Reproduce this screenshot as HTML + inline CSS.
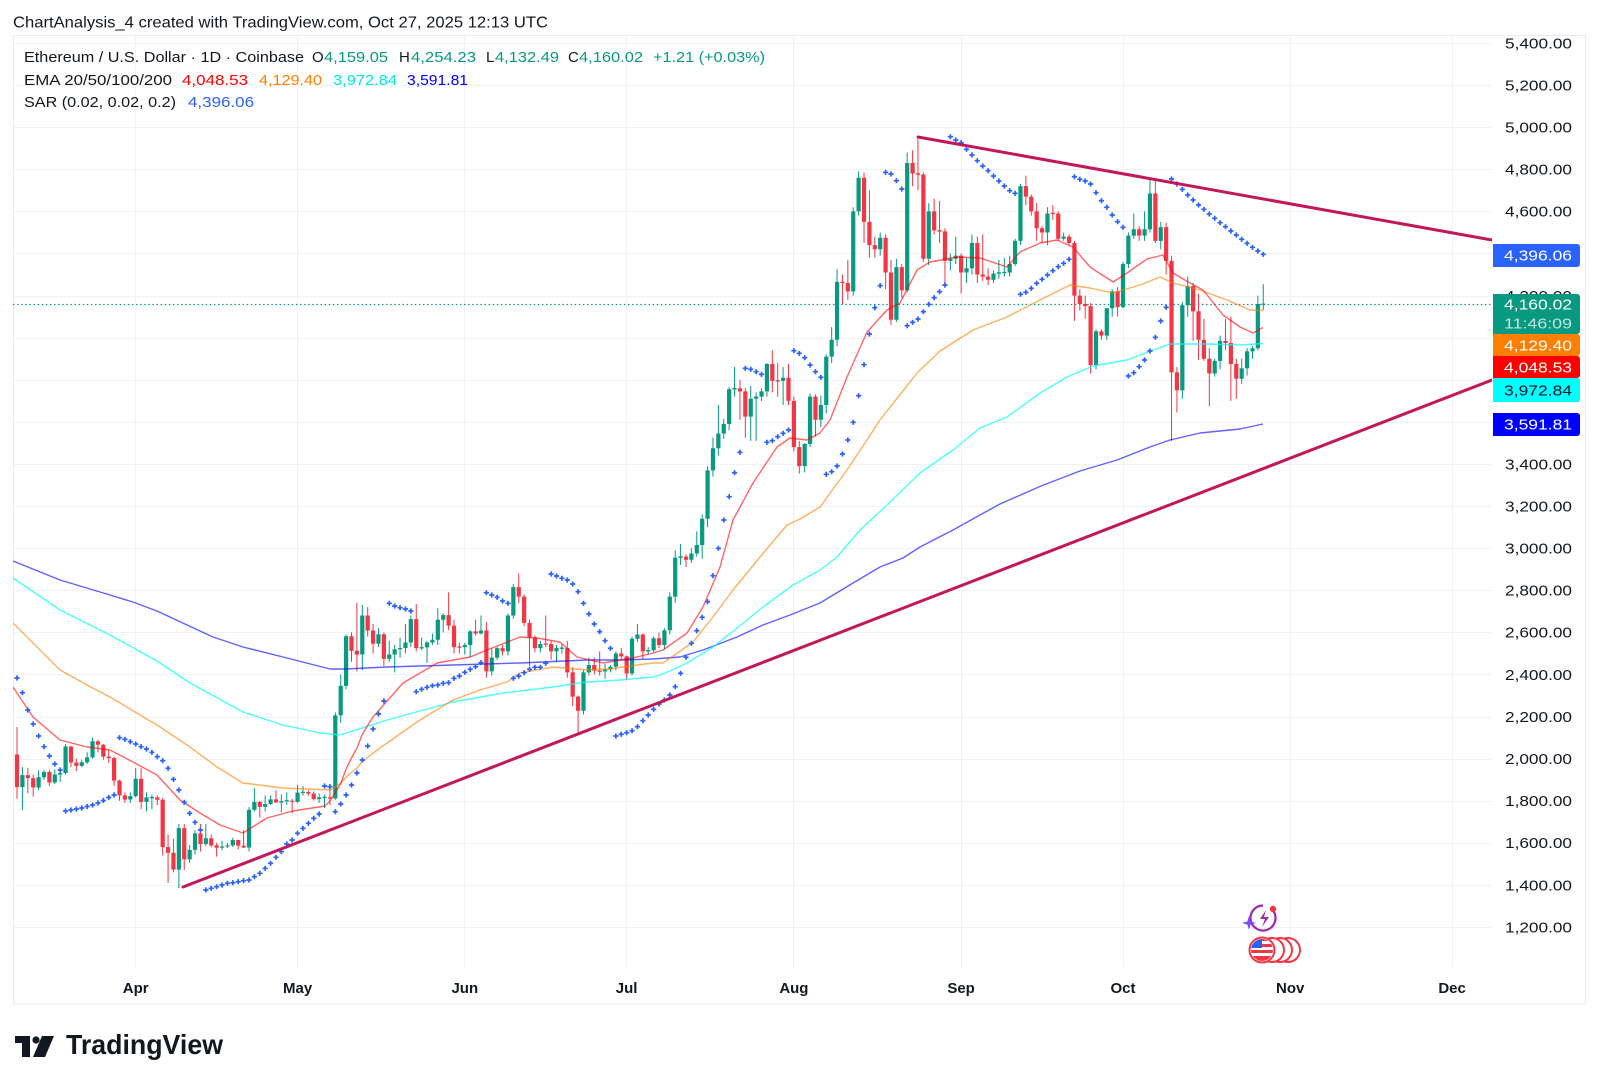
<!DOCTYPE html>
<html><head><meta charset="utf-8">
<style>
html,body{margin:0;padding:0;background:#fff;}
svg{display:block;font-family:"Liberation Sans",Arial,sans-serif;}
</style></head>
<body>
<svg xmlns="http://www.w3.org/2000/svg" width="1600" height="1084" viewBox="0 0 1600 1084">
<defs>
<clipPath id="clip"><rect x="13" y="35" width="1479" height="932"/></clipPath>
<clipPath id="coin"><circle cx="1262" cy="950" r="11"/></clipPath>
</defs>
<rect x="0" y="0" width="1600" height="1084" fill="#fff"/>
<text x="13" y="27.5" font-size="16" fill="#131722" textLength="535" lengthAdjust="spacingAndGlyphs">ChartAnalysis_4 created with TradingView.com, Oct 27, 2025 12:13 UTC</text>

<!-- grid -->
<path fill="none" stroke="#f0f2f6" stroke-width="1" d="M13 43.5H1492M13 85.5H1492M13 127.5H1492M13 169.5H1492M13 211.5H1492M13 253.5H1492M13 296.5H1492M13 338.5H1492M13 380.5H1492M13 422.5H1492M13 464.5H1492M13 506.5H1492M13 548.5H1492M13 590.5H1492M13 632.5H1492M13 674.5H1492M13 717.5H1492M13 759.5H1492M13 801.5H1492M13 843.5H1492M13 885.5H1492M13 927.5H1492M135.5 36V967M297.5 36V967M464.5 36V967M626.5 36V967M793.5 36V967M961.5 36V967M1123.5 36V967M1290.5 36V967M1452.5 36V967"/>
<rect x="13.5" y="35.5" width="1572" height="968.5" fill="none" stroke="#e9ebf0" stroke-width="1"/>

<g clip-path="url(#clip)">
<path d="M13 304.5H1492" stroke="#089981" stroke-width="1.3" stroke-dasharray="1.5 2.6" fill="none"/>
<g transform="matrix(5.395 0 0 -0.2105 17.01 1179.7)">
<path fill="none" stroke="#089981" stroke-width="1" vector-effect="non-scaling-stroke" d="M1 1960V1755M4 1945V1850M5 1945V1900M7 1950V1880M8 1940V1890M9 2070V1925M12 1995V1960M13 2030V1975M14 2100V2000M21 1840V1790M22 1955V1815M24 1840V1750M25 1830V1760M30 1690V1385M32 1590V1505M33 1660V1545M35 1690V1585M38 1610V1565M39 1600V1575M40 1625V1580M43 1770V1560M44 1860V1750M46 1825V1750M47 1825V1780M49 1830V1745M50 1840V1780M52 1875V1790M53 1870V1825M56 1835V1790M57 1830V1765M59 2220V1805M60 2400V2170M61 2590V2330M64 2730V2420M67 2620V2530M69 2560V2460M70 2540V2410M71 2575V2480M72 2640V2500M73 2680V2530M75 2575V2515M76 2560V2455M77 2595V2540M78 2715V2540M79 2690V2600M83 2550V2495M84 2610V2480M86 2680V2590M88 2525V2395M89 2530V2470M91 2690V2490M92 2830V2665M97 2560V2505M100 2540V2460M101 2545V2500M105 2420V2210M106 2480V2395M109 2450V2380M110 2445V2410M111 2510V2420M114 2580V2395M115 2640V2555M117 2530V2495M118 2580V2505M120 2620V2520M121 2790V2590M122 2990V2740M123 3020V2920M125 3000V2930M126 3080V2960M127 3160V2950M128 3390V3100M129 3525V3340M130 3680V3440M131 3615V3520M132 3765V3560M133 3860V3720M136 3770V3510M137 3740V3510M138 3760V3700M139 3880V3720M142 3860V3680M146 3500V3360M147 3735V3480M149 3725V3575M150 3920V3640M151 4050V3880M152 4325V3960M155 4620V4200M156 4790V4580M160 4500V4390M163 4375V4075M165 4880V4215M169 4640V4345M173 4400V4320M174 4480V4350M176 4380V4260M177 4490V4300M181 4320V4260M182 4370V4280M183 4380V4290M184 4390V4290M185 4470V4340M186 4730V4440M191 4620V4440M194 4500V4460M200 4040V3850M202 4140V3990M203 4230V4100M205 4360V4140M206 4500V4330M207 4590V4470M209 4600V4460M210 4755V4500M212 4550V4420M216 4170V3710M217 4290V4100M222 3900V3815M223 4010V3850M227 3900V3780M228 3950V3820M229 3960V3900M230 4200V3940M231 4254V4132"/>
<path fill="none" stroke="#f23645" stroke-width="1" vector-effect="non-scaling-stroke" d="M0 2150V1810M2 1955V1835M3 1925V1820M6 1945V1870M10 2060V1960M11 2000V1940M15 2090V2030M16 2070V1995M17 2040V1980M18 2010V1870M19 1900V1800M20 1840V1790M23 1955V1760M26 1825V1780M27 1815V1540M28 1640V1410M29 1620V1460M31 1690V1470M34 1690V1560M36 1640V1580M37 1600V1535M41 1615V1570M42 1660V1575M45 1800V1720M48 1850V1790M51 1810V1740M54 1850V1825M55 1845V1800M58 1860V1780M62 2600V2460M63 2740V2415M65 2720V2580M66 2640V2500M68 2600V2440M74 2735V2510M80 2790V2610M81 2660V2500M82 2550V2500M85 2660V2585M87 2650V2385M90 2540V2490M93 2880V2740M94 2780V2630M95 2660V2440M96 2585V2505M98 2680V2530M99 2560V2470M102 2560V2385M103 2435V2250M104 2300V2110M107 2480V2400M108 2510V2395M112 2525V2470M113 2490V2375M116 2595V2475M119 2600V2525M124 2970V2910M134 3800V3610M135 3760V3525M140 3940V3740M141 3880V3720M143 3875V3680M144 3720V3460M145 3510V3355M148 3730V3530M153 4300V4160M154 4370V4180M157 4785V4450M158 4700V4380M159 4480V4380M161 4490V4230M162 4370V4060M164 4350V4190M166 4890V4720M167 4955V4700M168 4785V4360M170 4660V4490M171 4650V4450M172 4520V4260M175 4400V4210M178 4480V4260M179 4490V4270M180 4330V4250M187 4770V4630M188 4680V4580M189 4640V4460M190 4530V4450M192 4630V4560M193 4600V4460M195 4490V4440M196 4460V4080M197 4230V4130M198 4200V4090M199 4165V3830M201 4040V3990M204 4240V4100M208 4530V4460M211 4750V4450M213 4545V4300M214 4390V3510M215 3860V3645M218 4260V3985M219 4210V3895M220 4090V3890M221 3950V3675M224 4090V3940M225 4100V3700M226 3900V3710"/>
<path fill="#089981" d="M.61 1865V1922h.78V1865zM3.61 1863V1912h.78V1863zM4.61 1912V1937h.78V1912zM6.61 1887V1925h.78V1887zM7.61 1925V1932h.78V1925zM8.61 1932V2058h.78V1932zM11.61 1966V1983h.78V1966zM12.61 1983V2006h.78V1983zM13.61 2006V2083h.78V2006zM20.61 1806V1822h.78V1806zM21.61 1822V1905h.78V1822zM23.61 1795V1816h.78V1795zM24.61 1812V1818h.78V1812zM29.61 1473V1670h.78V1473zM31.61 1522V1567h.78V1522zM32.61 1567V1645h.78V1567zM34.61 1595V1622h.78V1595zM37.61 1577V1583h.78V1577zM38.61 1583V1588h.78V1583zM39.61 1588V1614h.78V1588zM42.61 1578V1757h.78V1578zM43.61 1757V1795h.78V1757zM45.61 1771V1785h.78V1771zM46.61 1785V1807h.78V1785zM48.61 1792V1799h.78V1792zM49.61 1797V1803h.78V1797zM51.61 1795V1839h.78V1795zM52.61 1837V1843h.78V1837zM55.61 1808V1816h.78V1808zM56.61 1814V1819h.78V1814zM58.61 1811V2206h.78V1811zM59.61 2206V2346h.78V2206zM60.61 2346V2582h.78V2346zM63.61 2495V2680h.78V2495zM66.61 2546V2591h.78V2546zM68.61 2474V2495h.78V2474zM69.61 2495V2520h.78V2495zM70.61 2520V2526h.78V2520zM71.61 2526V2552h.78V2526zM72.61 2552V2663h.78V2552zM74.61 2524V2530h.78V2524zM75.61 2529V2552h.78V2529zM76.61 2552V2565h.78V2552zM77.61 2565V2660h.78V2565zM78.61 2660V2682h.78V2660zM82.61 2530V2540h.78V2530zM83.61 2540V2605h.78V2540zM85.61 2595V2609h.78V2595zM87.61 2415V2480h.78V2415zM88.61 2480V2525h.78V2480zM90.61 2510V2680h.78V2510zM91.61 2680V2815h.78V2680zM96.61 2525V2545h.78V2525zM99.61 2510V2525h.78V2510zM100.61 2522V2528h.78V2522zM104.61 2228V2410h.78V2228zM105.61 2410V2445h.78V2410zM108.61 2415V2424h.78V2415zM109.61 2424V2437h.78V2424zM110.61 2437V2500h.78V2437zM113.61 2405V2570h.78V2405zM114.61 2570V2590h.78V2570zM116.61 2509V2516h.78V2509zM117.61 2515V2572h.78V2515zM119.61 2540V2610h.78V2540zM120.61 2610V2770h.78V2610zM121.61 2770V2955h.78V2770zM122.61 2954V2961h.78V2954zM124.61 2945V2975h.78V2945zM125.61 2975V3015h.78V2975zM126.61 3015V3140h.78V3015zM127.61 3140V3370h.78V3140zM128.61 3370V3475h.78V3370zM129.61 3475V3545h.78V3475zM130.61 3545V3590h.78V3545zM131.61 3590V3755h.78V3590zM132.61 3754V3761h.78V3754zM135.61 3625V3710h.78V3625zM136.61 3710V3720h.78V3710zM137.61 3720V3745h.78V3720zM138.61 3745V3875h.78V3745zM141.61 3795V3810h.78V3795zM145.61 3390V3495h.78V3390zM146.61 3495V3720h.78V3495zM148.61 3610V3680h.78V3610zM149.61 3680V3910h.78V3680zM150.61 3910V3990h.78V3910zM151.61 3990V4265h.78V3990zM154.61 4220V4600h.78V4220zM155.61 4600V4760h.78V4600zM159.61 4420V4475h.78V4420zM162.61 4085V4335h.78V4085zM164.61 4225V4830h.78V4225zM168.61 4375V4600h.78V4375zM172.61 4365V4375h.78V4365zM173.61 4375V4390h.78V4375zM175.61 4310V4330h.78V4310zM176.61 4330V4450h.78V4330zM180.61 4275V4305h.78V4275zM181.61 4304V4311h.78V4304zM182.61 4307V4313h.78V4307zM183.61 4310V4350h.78V4310zM184.61 4350V4460h.78V4350zM185.61 4460V4720h.78V4460zM190.61 4500V4590h.78V4500zM193.61 4470V4480h.78V4470zM199.61 3870V4030h.78V3870zM201.61 4010V4140h.78V4010zM202.61 4140V4220h.78V4140zM204.61 4145V4350h.78V4145zM205.61 4350V4485h.78V4350zM206.61 4485V4515h.78V4485zM208.61 4485V4515h.78V4485zM209.61 4515V4685h.78V4515zM211.61 4460V4525h.78V4460zM215.61 3750V4155h.78V3750zM216.61 4155V4245h.78V4155zM221.61 3830V3890h.78V3830zM222.61 3890V3985h.78V3890zM226.61 3805V3855h.78V3805zM227.61 3855V3935h.78V3855zM228.61 3935V3950h.78V3935zM229.61 3950V4160h.78V3950zM230.61 4157V4162h.78V4157z"/>
<path fill="#f23645" d="M-.39 1865V2020h.78V1865zM1.61 1908V1922h.78V1908zM2.61 1863V1908h.78V1863zM5.61 1887V1937h.78V1887zM9.61 1982V2058h.78V1982zM10.61 1966V1982h.78V1966zM14.61 2066V2083h.78V2066zM15.61 2010V2066h.78V2010zM16.61 2003V2010h.78V2003zM17.61 1896V2003h.78V1896zM18.61 1826V1896h.78V1826zM19.61 1806V1826h.78V1806zM22.61 1795V1905h.78V1795zM25.61 1805V1816h.78V1805zM26.61 1580V1805h.78V1580zM27.61 1553V1580h.78V1553zM28.61 1473V1553h.78V1473zM30.61 1522V1670h.78V1522zM33.61 1595V1645h.78V1595zM35.61 1588V1622h.78V1588zM36.61 1577V1588h.78V1577zM40.61 1587V1614h.78V1587zM41.61 1578V1587h.78V1578zM44.61 1771V1795h.78V1771zM47.61 1792V1807h.78V1792zM50.61 1795V1800h.78V1795zM53.61 1834V1842h.78V1834zM54.61 1808V1834h.78V1808zM57.61 1811V1817h.78V1811zM61.61 2512V2582h.78V2512zM62.61 2495V2512h.78V2495zM64.61 2609V2680h.78V2609zM65.61 2546V2609h.78V2546zM67.61 2474V2591h.78V2474zM73.61 2525V2663h.78V2525zM79.61 2632V2682h.78V2632zM80.61 2530V2632h.78V2530zM81.61 2527V2533h.78V2527zM84.61 2595V2605h.78V2595zM86.61 2415V2609h.78V2415zM89.61 2510V2525h.78V2510zM92.61 2770V2815h.78V2770zM93.61 2645V2770h.78V2645zM94.61 2575V2645h.78V2575zM95.61 2525V2575h.78V2525zM97.61 2542V2548h.78V2542zM98.61 2510V2545h.78V2510zM101.61 2410V2525h.78V2410zM102.61 2295V2410h.78V2295zM103.61 2228V2295h.78V2228zM106.61 2418V2445h.78V2418zM107.61 2413V2419h.78V2413zM111.61 2486V2500h.78V2486zM112.61 2405V2486h.78V2405zM115.61 2510V2590h.78V2510zM118.61 2540V2572h.78V2540zM123.61 2945V2960h.78V2945zM133.61 3745V3760h.78V3745zM134.61 3625V3745h.78V3625zM139.61 3795V3875h.78V3795zM140.61 3792V3798h.78V3792zM142.61 3700V3810h.78V3700zM143.61 3480V3700h.78V3480zM144.61 3390V3480h.78V3390zM147.61 3610V3720h.78V3610zM152.61 4259V4266h.78V4259zM153.61 4220V4260h.78V4220zM156.61 4550V4760h.78V4550zM157.61 4440V4550h.78V4440zM158.61 4420V4440h.78V4420zM160.61 4310V4475h.78V4310zM161.61 4085V4310h.78V4085zM163.61 4225V4335h.78V4225zM165.61 4780V4830h.78V4780zM166.61 4774V4781h.78V4774zM167.61 4375V4775h.78V4375zM169.61 4510V4600h.78V4510zM170.61 4504V4511h.78V4504zM171.61 4365V4505h.78V4365zM174.61 4310V4390h.78V4310zM177.61 4300V4450h.78V4300zM178.61 4290V4300h.78V4290zM179.61 4275V4290h.78V4275zM186.61 4670V4720h.78V4670zM187.61 4600V4670h.78V4600zM188.61 4520V4600h.78V4520zM189.61 4500V4520h.78V4500zM191.61 4587V4593h.78V4587zM192.61 4470V4590h.78V4470zM194.61 4450V4480h.78V4450zM195.61 4200V4450h.78V4200zM196.61 4160V4200h.78V4160zM197.61 4150V4160h.78V4150zM198.61 3870V4150h.78V3870zM200.61 4010V4030h.78V4010zM203.61 4145V4220h.78V4145zM207.61 4485V4515h.78V4485zM210.61 4460V4685h.78V4460zM212.61 4365V4525h.78V4365zM213.61 3835V4365h.78V3835zM214.61 3750V3835h.78V3750zM217.61 4125V4245h.78V4125zM218.61 3990V4125h.78V3990zM219.61 3900V3990h.78V3900zM220.61 3830V3900h.78V3830zM223.61 3975V3985h.78V3975zM224.61 3875V3975h.78V3875zM225.61 3805V3875h.78V3805z"/>
</g>

<!-- EMAs -->
<g fill="none" stroke-width="1.4" stroke-linejoin="round">
<path stroke="#0000ff" stroke-opacity="0.62" d="M13 561L60 580L100 592L133 602L157 611L187 625L213 637L243 647L283 657L330 669L345 669L387 667L453 665L520 663L587 660L620 660L653 659L680 657L703 650L737 637L763 625L790 615L820 603L853 583L880 567L903 558L920 547L953 530L980 515L1000 504L1041 486L1080 471L1117 460L1150 447L1170 440L1200 433L1240 429L1263 424"/>
<path stroke="#00ffff" stroke-opacity="0.7" d="M13 578L60 610L110 635L157 661L190 683L243 712L283 725L320 733L340 735L387 720L453 702L503 693L553 687L587 682L620 680L653 677L663 674L687 663L713 647L737 628L763 607L793 585L820 570L837 557L860 530L887 505L920 473L953 450L980 428L1007 417L1040 393L1067 377L1093 366L1127 360L1153 350L1170 344L1207 344L1240 345L1263 343.5"/>
<path stroke="#ff8000" stroke-opacity="0.62" d="M13 623L60 670L87 685L110 697L157 725L190 747L217 767L243 783L283 788L330 790L335 787L341 783L346 777L352 772L357 768L362 762L368 757L373 753L387 743L420 720L453 700L480 690L507 682L520 673L553 667L587 670L610 669L637 665L653 663L663 663L693 642L713 617L733 590L760 557L787 525L800 519L820 507L847 470L867 440L880 420L917 373L940 351L973 330L1007 317L1040 300L1070 285L1090 288L1113 293L1140 285L1160 277L1173 283L1200 290L1227 300L1250 310L1263 310.5"/>
<path stroke="#ff0000" stroke-opacity="0.6" d="M13 687L33 717L60 740L87 747L110 750L133 762L157 775L180 800L200 813L220 825L243 833L267 818L293 811L325 806L330 801L335 793L341 783L346 769L352 757L357 748L362 735L368 725L373 717L403 683L437 663L470 657L487 650L520 637L537 638L560 642L577 657L603 663L637 657L653 653L663 650L687 633L703 607L720 567L733 520L753 483L777 447L790 438L807 440L820 433L830 420L847 377L867 332L887 310L900 303L917 270L930 262L957 257L980 258L1007 267L1020 252L1040 243L1057 240L1073 247L1090 267L1113 282L1127 273L1147 259L1163 255L1173 273L1190 283L1203 290L1223 315L1240 327L1253 333L1263 327.5"/>
</g>

<!-- SAR -->
<g transform="matrix(5.395 0 0 1 17.01 0)">
<path fill="none" stroke="#2962ff" stroke-width="1.7" vector-effect="non-scaling-stroke" d="M-.48 678h.96m-.48-2.6v5.2M.52 692.7h.96m-.48-2.6v5.2M1.52 710h.96m-.48-2.6v5.2M2.52 724h.96m-.48-2.6v5.2M3.52 736h.96m-.48-2.6v5.2M4.52 746.7h.96m-.48-2.6v5.2M5.52 756h.96m-.48-2.6v5.2M6.52 764h.96m-.48-2.6v5.2M7.52 770h.96m-.48-2.6v5.2M8.52 811h.96m-.48-2.6v5.2M9.52 810h.96m-.48-2.6v5.2M10.52 809h.96m-.48-2.6v5.2M11.52 808h.96m-.48-2.6v5.2M12.52 806.5h.96m-.48-2.6v5.2M13.52 805h.96m-.48-2.6v5.2M14.52 803h.96m-.48-2.6v5.2M15.52 800.5h.96m-.48-2.6v5.2M16.52 797.5h.96m-.48-2.6v5.2M17.52 795h.96m-.48-2.6v5.2M18.52 737.7h.96m-.48-2.6v5.2M19.52 739.3h.96m-.48-2.6v5.2M20.52 741.7h.96m-.48-2.6v5.2M21.52 744h.96m-.48-2.6v5.2M22.52 746.7h.96m-.48-2.6v5.2M23.52 749h.96m-.48-2.6v5.2M24.52 752.3h.96m-.48-2.6v5.2M25.52 756.7h.96m-.48-2.6v5.2M26.52 760.7h.96m-.48-2.6v5.2M27.52 768.3h.96m-.48-2.6v5.2M28.52 779.3h.96m-.48-2.6v5.2M29.52 790h.96m-.48-2.6v5.2M30.52 802.3h.96m-.48-2.6v5.2M31.52 813.3h.96m-.48-2.6v5.2M32.52 822.3h.96m-.48-2.6v5.2M33.52 830h.96m-.48-2.6v5.2M34.52 890h.96m-.48-2.6v5.2M35.52 888.3h.96m-.48-2.6v5.2M36.52 886.7h.96m-.48-2.6v5.2M37.52 885h.96m-.48-2.6v5.2M38.52 883.3h.96m-.48-2.6v5.2M39.52 882.7h.96m-.48-2.6v5.2M40.52 881.7h.96m-.48-2.6v5.2M41.52 880.7h.96m-.48-2.6v5.2M42.52 880h.96m-.48-2.6v5.2M43.52 876.7h.96m-.48-2.6v5.2M44.52 873.3h.96m-.48-2.6v5.2M45.52 868.3h.96m-.48-2.6v5.2M46.52 863.3h.96m-.48-2.6v5.2M47.52 857.3h.96m-.48-2.6v5.2M48.52 851.7h.96m-.48-2.6v5.2M49.52 844h.96m-.48-2.6v5.2M50.52 840h.96m-.48-2.6v5.2M51.52 833.3h.96m-.48-2.6v5.2M52.52 828.3h.96m-.48-2.6v5.2M53.52 823.3h.96m-.48-2.6v5.2M54.52 818.3h.96m-.48-2.6v5.2M55.52 814h.96m-.48-2.6v5.2M56.52 786h.96m-.48-2.6v5.2M57.52 786.7h.96m-.48-2.6v5.2M58.52 811.7h.96m-.48-2.6v5.2M59.52 804h.96m-.48-2.6v5.2M60.52 795h.96m-.48-2.6v5.2M61.52 785h.96m-.48-2.6v5.2M62.52 773h.96m-.48-2.6v5.2M63.52 760h.96m-.48-2.6v5.2M64.52 746h.96m-.48-2.6v5.2M65.52 729h.96m-.48-2.6v5.2M66.52 714h.96m-.48-2.6v5.2M67.52 701h.96m-.48-2.6v5.2M68.52 603.3h.96m-.48-2.6v5.2M69.52 606h.96m-.48-2.6v5.2M70.52 607.7h.96m-.48-2.6v5.2M71.52 609h.96m-.48-2.6v5.2M72.52 611h.96m-.48-2.6v5.2M73.52 691.7h.96m-.48-2.6v5.2M74.52 689.3h.96m-.48-2.6v5.2M75.52 687.3h.96m-.48-2.6v5.2M76.52 685.7h.96m-.48-2.6v5.2M77.52 685h.96m-.48-2.6v5.2M78.52 683.3h.96m-.48-2.6v5.2M79.52 682.7h.96m-.48-2.6v5.2M80.52 678.3h.96m-.48-2.6v5.2M81.52 676h.96m-.48-2.6v5.2M82.52 672.3h.96m-.48-2.6v5.2M83.52 669.3h.96m-.48-2.6v5.2M84.52 666.7h.96m-.48-2.6v5.2M85.52 662.7h.96m-.48-2.6v5.2M86.52 592.7h.96m-.48-2.6v5.2M87.52 595h.96m-.48-2.6v5.2M88.52 597.3h.96m-.48-2.6v5.2M89.52 601h.96m-.48-2.6v5.2M90.52 603.3h.96m-.48-2.6v5.2M91.52 678.3h.96m-.48-2.6v5.2M92.52 676h.96m-.48-2.6v5.2M93.52 672.7h.96m-.48-2.6v5.2M94.52 669.3h.96m-.48-2.6v5.2M95.52 667.3h.96m-.48-2.6v5.2M96.52 667.3h.96m-.48-2.6v5.2M97.52 663.3h.96m-.48-2.6v5.2M98.52 574h.96m-.48-2.6v5.2M99.52 576h.96m-.48-2.6v5.2M100.52 578.3h.96m-.48-2.6v5.2M101.52 580h.96m-.48-2.6v5.2M102.52 584h.96m-.48-2.6v5.2M103.52 591.7h.96m-.48-2.6v5.2M104.52 603.3h.96m-.48-2.6v5.2M105.52 614h.96m-.48-2.6v5.2M106.52 624h.96m-.48-2.6v5.2M107.52 631.7h.96m-.48-2.6v5.2M108.52 640.7h.96m-.48-2.6v5.2M109.52 648.3h.96m-.48-2.6v5.2M110.52 736h.96m-.48-2.6v5.2M111.52 734.3h.96m-.48-2.6v5.2M112.52 732.7h.96m-.48-2.6v5.2M113.52 730.7h.96m-.48-2.6v5.2M114.52 726.7h.96m-.48-2.6v5.2M115.52 720.7h.96m-.48-2.6v5.2M116.52 715h.96m-.48-2.6v5.2M117.52 709.3h.96m-.48-2.6v5.2M118.52 704h.96m-.48-2.6v5.2M119.52 700h.96m-.48-2.6v5.2M120.52 695h.96m-.48-2.6v5.2M121.52 686.7h.96m-.48-2.6v5.2M122.52 673.3h.96m-.48-2.6v5.2M123.52 657.3h.96m-.48-2.6v5.2M124.52 643.3h.96m-.48-2.6v5.2M125.52 630.7h.96m-.48-2.6v5.2M126.52 617.3h.96m-.48-2.6v5.2M127.52 601.7h.96m-.48-2.6v5.2M128.52 575.7h.96m-.48-2.6v5.2M129.52 548.3h.96m-.48-2.6v5.2M130.52 520h.96m-.48-2.6v5.2M131.52 496.7h.96m-.48-2.6v5.2M132.52 472.7h.96m-.48-2.6v5.2M133.52 452.3h.96m-.48-2.6v5.2M134.52 368.3h.96m-.48-2.6v5.2M135.52 369.3h.96m-.48-2.6v5.2M136.52 371.7h.96m-.48-2.6v5.2M137.52 374.3h.96m-.48-2.6v5.2M138.52 442.3h.96m-.48-2.6v5.2M139.52 440.7h.96m-.48-2.6v5.2M140.52 436.7h.96m-.48-2.6v5.2M141.52 433.3h.96m-.48-2.6v5.2M142.52 430h.96m-.48-2.6v5.2M143.52 350.7h.96m-.48-2.6v5.2M144.52 353.3h.96m-.48-2.6v5.2M145.52 357.7h.96m-.48-2.6v5.2M146.52 365h.96m-.48-2.6v5.2M147.52 371.7h.96m-.48-2.6v5.2M148.52 377.3h.96m-.48-2.6v5.2M149.52 474.3h.96m-.48-2.6v5.2M150.52 471.7h.96m-.48-2.6v5.2M151.52 466h.96m-.48-2.6v5.2M152.52 454h.96m-.48-2.6v5.2M153.52 440h.96m-.48-2.6v5.2M154.52 422.3h.96m-.48-2.6v5.2M155.52 395.7h.96m-.48-2.6v5.2M156.52 364.7h.96m-.48-2.6v5.2M157.52 334h.96m-.48-2.6v5.2M158.52 307.7h.96m-.48-2.6v5.2M159.52 285.7h.96m-.48-2.6v5.2M160.52 172.3h.96m-.48-2.6v5.2M161.52 174h.96m-.48-2.6v5.2M162.52 180.7h.96m-.48-2.6v5.2M163.52 189h.96m-.48-2.6v5.2M164.52 325.7h.96m-.48-2.6v5.2M165.52 322.3h.96m-.48-2.6v5.2M166.52 319h.96m-.48-2.6v5.2M167.52 311.7h.96m-.48-2.6v5.2M168.52 304.3h.96m-.48-2.6v5.2M169.52 297.7h.96m-.48-2.6v5.2M170.52 291.7h.96m-.48-2.6v5.2M171.52 285h.96m-.48-2.6v5.2M172.52 136.7h.96m-.48-2.6v5.2M173.52 140h.96m-.48-2.6v5.2M174.52 142.7h.96m-.48-2.6v5.2M175.52 149.3h.96m-.48-2.6v5.2M176.52 155h.96m-.48-2.6v5.2M177.52 160.7h.96m-.48-2.6v5.2M178.52 166h.96m-.48-2.6v5.2M179.52 170.7h.96m-.48-2.6v5.2M180.52 176h.96m-.48-2.6v5.2M181.52 181h.96m-.48-2.6v5.2M182.52 186h.96m-.48-2.6v5.2M183.52 190.7h.96m-.48-2.6v5.2M184.52 193.3h.96m-.48-2.6v5.2M185.52 294.3h.96m-.48-2.6v5.2M186.52 292.3h.96m-.48-2.6v5.2M187.52 288.3h.96m-.48-2.6v5.2M188.52 283.3h.96m-.48-2.6v5.2M189.52 279.3h.96m-.48-2.6v5.2M190.52 275h.96m-.48-2.6v5.2M191.52 270.7h.96m-.48-2.6v5.2M192.52 266.7h.96m-.48-2.6v5.2M193.52 263.3h.96m-.48-2.6v5.2M194.52 259.3h.96m-.48-2.6v5.2M195.52 176.7h.96m-.48-2.6v5.2M196.52 179.3h.96m-.48-2.6v5.2M197.52 181h.96m-.48-2.6v5.2M198.52 184h.96m-.48-2.6v5.2M199.52 192.7h.96m-.48-2.6v5.2M200.52 200.7h.96m-.48-2.6v5.2M201.52 207.3h.96m-.48-2.6v5.2M202.52 215h.96m-.48-2.6v5.2M203.52 221.7h.96m-.48-2.6v5.2M204.52 227.3h.96m-.48-2.6v5.2M205.52 376h.96m-.48-2.6v5.2M206.52 372.7h.96m-.48-2.6v5.2M207.52 366.7h.96m-.48-2.6v5.2M208.52 360h.96m-.48-2.6v5.2M209.52 351h.96m-.48-2.6v5.2M210.52 337.3h.96m-.48-2.6v5.2M211.52 321h.96m-.48-2.6v5.2M212.52 307.3h.96m-.48-2.6v5.2M213.52 179h.96m-.48-2.6v5.2M214.52 184h.96m-.48-2.6v5.2M215.52 189.3h.96m-.48-2.6v5.2M216.52 195h.96m-.48-2.6v5.2M217.52 200h.96m-.48-2.6v5.2M218.52 205h.96m-.48-2.6v5.2M219.52 209.3h.96m-.48-2.6v5.2M220.52 214h.96m-.48-2.6v5.2M221.52 218.3h.96m-.48-2.6v5.2M222.52 222.7h.96m-.48-2.6v5.2M223.52 226.7h.96m-.48-2.6v5.2M224.52 231h.96m-.48-2.6v5.2M225.52 235h.96m-.48-2.6v5.2M226.52 239.3h.96m-.48-2.6v5.2M227.52 243.3h.96m-.48-2.6v5.2M228.52 247.3h.96m-.48-2.6v5.2M229.52 251h.96m-.48-2.6v5.2M230.52 254.3h.96m-.48-2.6v5.2"/>
</g>

<!-- trendlines -->
<path d="M183 887L1492 380" stroke="#c2185b" stroke-width="3" fill="none" stroke-linecap="round"/>
<path d="M918 137L1492 240" stroke="#c2185b" stroke-width="3" fill="none" stroke-linecap="round"/>
</g>

<!-- price axis labels -->
<g font-size="15" fill="#131722">
<text x="1505" y="48.3" textLength="67" lengthAdjust="spacingAndGlyphs">5,400.00</text>
<text x="1505" y="90.4" textLength="67" lengthAdjust="spacingAndGlyphs">5,200.00</text>
<text x="1505" y="132.5" textLength="67" lengthAdjust="spacingAndGlyphs">5,000.00</text>
<text x="1505" y="174.6" textLength="67" lengthAdjust="spacingAndGlyphs">4,800.00</text>
<text x="1505" y="216.7" textLength="67" lengthAdjust="spacingAndGlyphs">4,600.00</text>
<text x="1505" y="258.8" textLength="67" lengthAdjust="spacingAndGlyphs">4,400.00</text>
<text x="1505" y="300.9" textLength="67" lengthAdjust="spacingAndGlyphs">4,200.00</text>
<text x="1505" y="343" textLength="67" lengthAdjust="spacingAndGlyphs">4,000.00</text>
<text x="1505" y="385.1" textLength="67" lengthAdjust="spacingAndGlyphs">3,800.00</text>
<text x="1505" y="427.2" textLength="67" lengthAdjust="spacingAndGlyphs">3,600.00</text>
<text x="1505" y="469.3" textLength="67" lengthAdjust="spacingAndGlyphs">3,400.00</text>
<text x="1505" y="511.4" textLength="67" lengthAdjust="spacingAndGlyphs">3,200.00</text>
<text x="1505" y="553.5" textLength="67" lengthAdjust="spacingAndGlyphs">3,000.00</text>
<text x="1505" y="595.6" textLength="67" lengthAdjust="spacingAndGlyphs">2,800.00</text>
<text x="1505" y="637.7" textLength="67" lengthAdjust="spacingAndGlyphs">2,600.00</text>
<text x="1505" y="679.8" textLength="67" lengthAdjust="spacingAndGlyphs">2,400.00</text>
<text x="1505" y="721.9" textLength="67" lengthAdjust="spacingAndGlyphs">2,200.00</text>
<text x="1505" y="764" textLength="67" lengthAdjust="spacingAndGlyphs">2,000.00</text>
<text x="1505" y="806.1" textLength="67" lengthAdjust="spacingAndGlyphs">1,800.00</text>
<text x="1505" y="848.2" textLength="67" lengthAdjust="spacingAndGlyphs">1,600.00</text>
<text x="1505" y="890.3" textLength="67" lengthAdjust="spacingAndGlyphs">1,400.00</text>
<text x="1505" y="932.4" textLength="67" lengthAdjust="spacingAndGlyphs">1,200.00</text>
</g>

<!-- header -->
<g font-size="15">
<text x="24" y="62" fill="#131722" textLength="280" lengthAdjust="spacingAndGlyphs">Ethereum / U.S. Dollar · 1D · Coinbase</text>
<text x="312" y="62" fill="#131722">O</text><text x="324" y="62" fill="#089981" textLength="64" lengthAdjust="spacingAndGlyphs">4,159.05</text>
<text x="399" y="62" fill="#131722">H</text><text x="411" y="62" fill="#089981" textLength="65" lengthAdjust="spacingAndGlyphs">4,254.23</text>
<text x="486" y="62" fill="#131722">L</text><text x="495" y="62" fill="#089981" textLength="64" lengthAdjust="spacingAndGlyphs">4,132.49</text>
<text x="568" y="62" fill="#131722">C</text><text x="579" y="62" fill="#089981" textLength="64" lengthAdjust="spacingAndGlyphs">4,160.02</text>
<text x="653" y="62" fill="#089981" textLength="112" lengthAdjust="spacingAndGlyphs">+1.21 (+0.03%)</text>
<text x="24" y="85" fill="#131722" textLength="148" lengthAdjust="spacingAndGlyphs">EMA 20/50/100/200</text>
<text x="182" y="85" fill="#ff0000" textLength="66" lengthAdjust="spacingAndGlyphs">4,048.53</text>
<text x="259" y="85" fill="#ff8000" textLength="63" lengthAdjust="spacingAndGlyphs">4,129.40</text>
<text x="333" y="85" fill="#00eaea" textLength="64" lengthAdjust="spacingAndGlyphs">3,972.84</text>
<text x="407" y="85" fill="#0000ff" textLength="61" lengthAdjust="spacingAndGlyphs">3,591.81</text>
<text x="24" y="107" fill="#131722" textLength="152" lengthAdjust="spacingAndGlyphs">SAR (0.02, 0.02, 0.2)</text>
<text x="188" y="107" fill="#2962ff" textLength="66" lengthAdjust="spacingAndGlyphs">4,396.06</text>
</g>

<!-- month labels -->
<g font-size="15" font-weight="bold" fill="#131722" text-anchor="middle">
<text x="135.7" y="993">Apr</text>
<text x="297.6" y="993">May</text>
<text x="464.8" y="993">Jun</text>
<text x="626.6" y="993">Jul</text>
<text x="793.9" y="993">Aug</text>
<text x="961.1" y="993">Sep</text>
<text x="1123" y="993">Oct</text>
<text x="1290.2" y="993">Nov</text>
<text x="1452.1" y="993">Dec</text>
</g>

<!-- price label boxes -->
<g font-size="15">
<path d="M1493 244h84a3 3 0 0 1 3 3v17a3 3 0 0 1-3 3h-84z" fill="#2962ff"/>
<text x="1504" y="260.5" fill="#fff" textLength="68" lengthAdjust="spacingAndGlyphs">4,396.06</text>
<path d="M1493 294h84a3 3 0 0 1 3 3v34a3 3 0 0 1-3 3h-84z" fill="#089981"/>
<text x="1504" y="309.5" fill="#fff" textLength="68" lengthAdjust="spacingAndGlyphs">4,160.02</text>
<text x="1504" y="328.5" fill="#fff" fill-opacity="0.75" textLength="68" lengthAdjust="spacingAndGlyphs">11:46:09</text>
<path d="M1493 334h84a3 3 0 0 1 3 3v16a3 3 0 0 1-3 3h-84z" fill="#ff8000"/>
<text x="1504" y="350.5" fill="#fff" textLength="68" lengthAdjust="spacingAndGlyphs">4,129.40</text>
<path d="M1493 356h84a3 3 0 0 1 3 3v16a3 3 0 0 1-3 3h-84z" fill="#ff0000"/>
<text x="1504" y="372.5" fill="#fff" textLength="68" lengthAdjust="spacingAndGlyphs">4,048.53</text>
<path d="M1493 378h84a3 3 0 0 1 3 3v18a3 3 0 0 1-3 3h-84z" fill="#00ffff"/>
<text x="1504" y="395.5" fill="#131722" textLength="68" lengthAdjust="spacingAndGlyphs">3,972.84</text>
<path d="M1493 413h84a3 3 0 0 1 3 3v17a3 3 0 0 1-3 3h-84z" fill="#0000ff"/>
<text x="1504" y="429.5" fill="#fff" textLength="68" lengthAdjust="spacingAndGlyphs">3,591.81</text>
</g>

<!-- event icons -->
<g>
<path d="M1263 905.5a12.5 12.5 0 1 0 10 5" fill="none" stroke="#9c27b0" stroke-width="2.2"/>
<path d="M1266 910l-6 9h5l-3 8 7-10h-5z" fill="#9c27b0"/>
<circle cx="1273" cy="909" r="3.2" fill="#f23645"/>
<path d="M1249 916l1.6 5.4 5.4 1.6-5.4 1.6-1.6 5.4-1.6-5.4-5.4-1.6 5.4-1.6z" fill="#7c4dff"/>
<circle cx="1288" cy="950" r="12" fill="#fff" stroke="#f23645" stroke-width="2"/>
<circle cx="1280" cy="950" r="12" fill="#fff" stroke="#f23645" stroke-width="2"/>
<circle cx="1272" cy="950" r="12" fill="#fff" stroke="#f23645" stroke-width="2"/>
<circle cx="1262" cy="950" r="12.5" fill="#fff" stroke="#f23645" stroke-width="2"/>
<g clip-path="url(#coin)">
<rect x="1250" y="938" width="24" height="3" fill="#f23645"/>
<rect x="1250" y="944" width="24" height="3" fill="#f23645"/>
<rect x="1250" y="950" width="24" height="3" fill="#f23645"/>
<rect x="1250" y="956" width="24" height="3" fill="#f23645"/>
<rect x="1250" y="959" width="24" height="3" fill="#f23645"/>
<rect x="1250" y="938" width="12" height="10" fill="#2962ff"/>
</g>
</g>

<!-- logo -->
<g fill="#131722">
<rect x="15" y="1036" width="15" height="7"/>
<rect x="22" y="1036" width="8" height="21"/>
<circle cx="36" cy="1040" r="3.6"/>
<polygon points="42,1036 54,1036 45,1057 33,1057"/>
<text x="66" y="1054" font-size="28" font-weight="bold" textLength="157" lengthAdjust="spacingAndGlyphs">TradingView</text>
</g>
</svg>
</body></html>
